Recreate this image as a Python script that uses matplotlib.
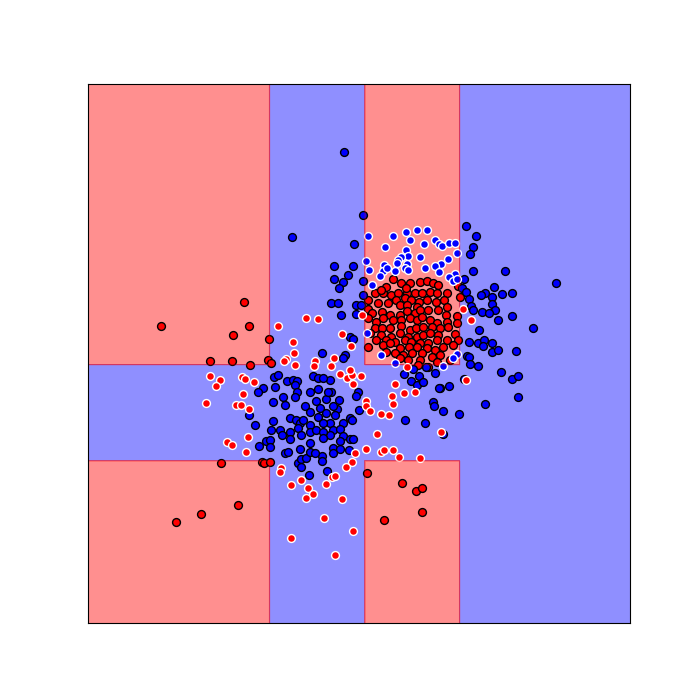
import numpy as np
import matplotlib
matplotlib.use("Agg")
import matplotlib.pyplot as plt

# split thresholds of the fitted tree and the class of each cell (1 = red, 0 = blue)
x_edges = [88, 270, 365, 460, 630]
y_edges = [84, 365, 461, 623]
region_class = [[1, 0, 1, 0],
                [0, 0, 0, 0],
                [1, 0, 1, 0]]

# correctly classified points (black edge)
red_ok = [
    (244.3, 302.3), (161, 326), (249.3, 326.3), (233.3, 335), (269.3, 339.3), (210.3, 361.3),
    (232.3, 361.3), (250.3, 365.3), (268.3, 360.3), (271.3, 363.3),
    (221.3, 463.3), (262.3, 462.3), (264.3, 463.3), (270.3, 462.3), (238, 505.3), (201.3, 514.3),
    (176.3, 522.3),
    (367.3, 473.3), (402.7, 483.3), (416.3, 491.3), (422.3, 488.3), (422.3, 512.3), (384.3, 520.3),
    (375, 293.3), (383.3, 293.3), (391, 295), (398.3, 292.7), (407.3, 292.7), (415, 293.3),
    (421.7, 293.3), (430, 291.7), (437.3, 293.3), (446.7, 292.7),
    (368.3, 300), (378.3, 302.7), (388.3, 302.7), (396.7, 300), (405, 298.3), (411.7, 300),
    (419.3, 301.7), (426.7, 300), (436, 301.7), (444, 300),
    (400, 305), (407.3, 305), (416.7, 306.7), (446.7, 306.7),
    (368.3, 309.3), (372.7, 313.3), (382.7, 311.7), (390, 315), (400, 315), (407.3, 310.7),
    (415, 313.3), (420, 310), (428.3, 310), (438.3, 310), (446, 315),
    (368.3, 318.3), (376, 321.7), (383.3, 318.3), (393.3, 320), (401.7, 320), (410, 318.3),
    (416.7, 320), (421.7, 316.7), (430, 320), (436.7, 323.3), (446.7, 321.7),
    (375, 328.3), (382.7, 328.3), (390, 328.3), (401.7, 326), (410, 330), (416, 328.3),
    (423.3, 326.7), (431.7, 326.7), (440, 328.3), (448.3, 326.7),
    (370, 333.3), (381.7, 335), (391.7, 336.7), (400, 333.3), (408.3, 336.7), (416.7, 336.7),
    (423.3, 335), (430, 333.3), (438.3, 335),
    (376.7, 340), (386.7, 340), (395, 341.7), (405, 340), (411.7, 341.7), (420, 343.3),
    (428.3, 343.3), (436.7, 340), (446.7, 340),
    (368.3, 346.7), (383.3, 345), (390, 343.3), (400, 348.3), (409.3, 346.7), (416.7, 346.7),
    (426.7, 348.3), (435, 350), (443.3, 346.7),
    (386.7, 351.7), (395, 353.3), (403.3, 355), (412.7, 353.3), (421.7, 353.3), (431.7, 356.7),
    (440, 355), (400, 358.3), (408.3, 360), (420, 360), (436.7, 361.7), (450, 360),
    (418.3, 365), (428.3, 366.7),
    (393.3, 279.3), (401.7, 283.3), (410, 282.7), (420, 281.7), (426.7, 280.7), (433.3, 283.3),
    (438.3, 285), (386.7, 287.3), (406.7, 288.3), (381.7, 290),
    (458.3, 286.3), (460.3, 297.3), (456.7, 316), (457.3, 322.7), (455, 334), (458.3, 340),
    (453.3, 345),
]

blue_ok = [
    (344.3, 152.3), (292.3, 237.3), (363.3, 215.3), (354.3, 244.3), (334.3, 266.3), (353.3, 266.3),
    (348.3, 275.3), (334.3, 279.3), (343.3, 282.3), (339.3, 288.3), (363.3, 281.3), (363.3, 295.3),
    (466.3, 226.3), (476.3, 236.3), (473.3, 247.3), (470.3, 254.3), (473.3, 271.3), (505.3, 271.3),
    (556.3, 283.3), (464.3, 279.3), (462.3, 288.3), (466.3, 292.3), (494.3, 287.3), (485.3, 293.3),
    (481.3, 295.3), (492.3, 297.3), (502.3, 294.3), (512.3, 293.3), (469.3, 299.3),
    (492.3, 304.3), (470.7, 305.7), (473.3, 310.3), (495, 310.3), (482.3, 312.3), (489.3, 313.3),
    (512.3, 316), (498.3, 320.3), (479.3, 330.3), (533.3, 328.3), (469.3, 342.3), (478.3, 343.3),
    (484.3, 340.3), (483.3, 346), (492.3, 343.3), (492.3, 352.3), (498.3, 350.3), (516.3, 351.3),
    (466.7, 356), (469.3, 356.7), (470, 364.3), (478.3, 366.3), (501.3, 372.3), (512.3, 379.3),
    (518.3, 376.3), (449.3, 386.3), (440, 388.3), (518.3, 397.3), (485.3, 404.3), (443.3, 411),
    (458.7, 414.3), (464.3, 379.3),
    (331.7, 303.3), (338.3, 303.3), (356, 305), (361.7, 305), (341.7, 315), (356, 314),
    (350, 336.7), (353.3, 339.3), (322.7, 353.3), (345, 355), (343.3, 358.3),
    (404, 374.3), (413.3, 369.3), (426, 367.3), (435.3, 373.3), (419.3, 376), (411, 381.3),
    (417.3, 385.3), (423.3, 382.3), (439.3, 388.3), (433.3, 402.3), (434, 405.7), (405.3, 420.3),
    (425.3, 423.3), (442.7, 434), (358.3, 392.3), (356, 396.3), (359.3, 410.3), (350, 418.3),
    (352.7, 420.3), (339.3, 400.3), (337.3, 409.3), (335, 414.7), (330, 423.3), (343.3, 423.3),
    (333.3, 430), (340, 429.3), (343.3, 436), (350, 439.3), (353.3, 439.3), (340, 441.3),
    (333.3, 448.3), (340, 449.3), (349.3, 450.3), (333.3, 453.3), (330, 380), (331.7, 391.7),
    (330, 435), (333.3, 406),
    (274, 377.3), (278.3, 375), (263.3, 388.3), (258.3, 392.3), (275.3, 387.3), (287.3, 381.3),
    (293.3, 380), (297.3, 381.3), (295.7, 385), (313.3, 376.3), (318.3, 378.3), (323.3, 378.3),
    (318.3, 389.3), (310, 392.3), (297.3, 392.3), (295, 396.7), (283.3, 397.3), (273.3, 402.3),
    (285.3, 405.3), (326.7, 399.3), (316.7, 401.3), (328.3, 392.3), (305, 406), (310, 411.7),
    (320, 408.3), (326.7, 413.3), (249.3, 415.3), (255.3, 425), (273.3, 421), (290, 418.3),
    (296.7, 420), (300, 423.3), (303.3, 420), (310, 425), (318.3, 416.7), (323.3, 423.3),
    (271.7, 430), (280, 430), (290, 431.7), (298.3, 428.3), (301.7, 435), (310, 431.7),
    (316.7, 430), (323.3, 431.7), (282.3, 435), (266.7, 441), (270.7, 440), (290.7, 439.3),
    (270.7, 446.7), (259.3, 446.3), (310, 442.7), (323.3, 438.3), (300, 449),
    (285, 453.3), (288.3, 451.7), (298.3, 463.3), (301.7, 459.3), (306.7, 458.3), (310, 451.7),
    (301.7, 466.7), (309.3, 475.3), (322.3, 456), (322.3, 460.7), (327.3, 471.3), (315, 452.7),
]

# misclassified points (white edge)
red_miss = [
    (278.3, 326.3), (306.3, 318.3), (318.3, 319.3), (293.3, 342.3), (294.3, 353.3), (286.3, 359.3),
    (284.3, 361.3), (295.3, 365.3), (315.3, 361.3), (314.3, 366.3),
    (362.3, 315), (342.7, 334), (351.7, 346), (334, 358.3), (331.7, 366),
    (463.3, 309.3), (471, 320.3), (466, 380.3),
    (210.3, 376.3), (220.3, 380.3), (216, 386.3), (242.7, 377.3), (245, 379.3), (254.3, 382.3),
    (243.3, 394.3), (206.3, 403.3), (236.7, 405.3), (241.3, 405.3), (249.3, 409.3), (248.3, 437.3),
    (227.3, 442.3), (232, 445.3),
    (246.3, 452.3), (281.3, 468.3), (280.3, 472.3), (291.3, 485.3), (301.3, 480.3), (308.3, 488.3),
    (313.3, 494.3), (306.3, 498.3), (326.3, 484.3), (332.3, 477.3), (335.3, 476.3), (342.3, 499.3),
    (324, 518.3), (353.3, 531.3), (291.3, 538.3), (335.3, 555.3),
    (340, 374.3), (347.3, 378.3), (352.7, 375.3), (350.3, 370.3), (361.3, 376.3), (353.3, 384.3),
    (407.3, 367.3), (395.7, 384.3), (404.7, 393.3), (415.3, 392.3), (392.3, 396.3), (393.3, 404.3),
    (366.7, 401.3), (366.3, 406.3), (370, 411.3), (381.3, 414.3), (389.3, 415.3), (440.7, 432.3),
    (377.3, 434.3), (366.3, 449.3), (381, 452.3), (384.3, 450.3), (393.3, 450.3), (399.3, 457.3),
    (420, 458.3), (355.3, 453.3), (352.7, 462), (346.7, 466.7),
]

blue_miss = [
    (368.3, 236), (393.3, 236), (406.3, 232.3), (417.3, 230.3), (427.3, 230.3), (410, 240.3),
    (385.3, 247.3), (424.3, 244.3), (406.3, 250.3), (408.3, 256.3), (401.3, 257.3), (398.3, 260.3),
    (397.3, 263.3), (420.3, 257.3), (366.3, 261.3), (384.3, 265.3), (407.3, 264.3), (405.3, 268.3),
    (369.3, 270.3), (383.3, 271.3), (395.3, 271.3), (408.3, 270.3), (425.3, 268.3), (380.3, 276.3),
    (372.3, 285.3), (387.3, 268.3),
    (435.3, 240.3), (439.3, 244.3), (442.3, 246.3), (449.3, 243.3), (455.3, 243.3), (457.3, 253.3),
    (448.3, 259.3), (441.3, 264.3), (435.3, 266.3), (439.3, 272.3), (455.3, 274.3), (449.3, 277.3),
    (453.3, 281.3), (457.3, 279.3),
    (367.3, 332.7), (381, 355), (395.3, 363.3), (442.7, 366), (457.3, 354), (452.7, 358.3),
]

fig, ax = plt.subplots(figsize=(7, 7), dpi=100)

# decision regions on a fine grid
xx, yy = np.meshgrid(np.linspace(x_edges[0], x_edges[-1], 800),
                     np.linspace(y_edges[0], y_edges[-1], 800))
col = np.clip(np.digitize(xx, x_edges) - 1, 0, len(x_edges) - 2)
row = np.clip(np.digitize(yy, y_edges) - 1, 0, len(y_edges) - 2)
zz = np.array(region_class)[row, col]
ax.contourf(xx, yy, zz, levels=[-0.5, 0.5, 1.5], colors=["blue", "red"], alpha=0.44)
# thin darker rim on the red side of each boundary
ax.contour(xx, yy, zz, levels=[0.9], colors="red", alpha=0.3, linewidths=1.0)

for pts, c, ec in [(red_ok, "red", "k"), (blue_ok, "blue", "k"),
                   (red_miss, "red", "w"), (blue_miss, "blue", "w")]:
    p = np.array(pts)
    ax.scatter(p[:, 0], p[:, 1], c=c, edgecolors=ec, s=32, linewidths=1)

ax.set_xlim(x_edges[0], x_edges[-1])
ax.set_ylim(y_edges[-1], y_edges[0])
ax.set_xticks([])
ax.set_yticks([])

fig.savefig("out.png")
